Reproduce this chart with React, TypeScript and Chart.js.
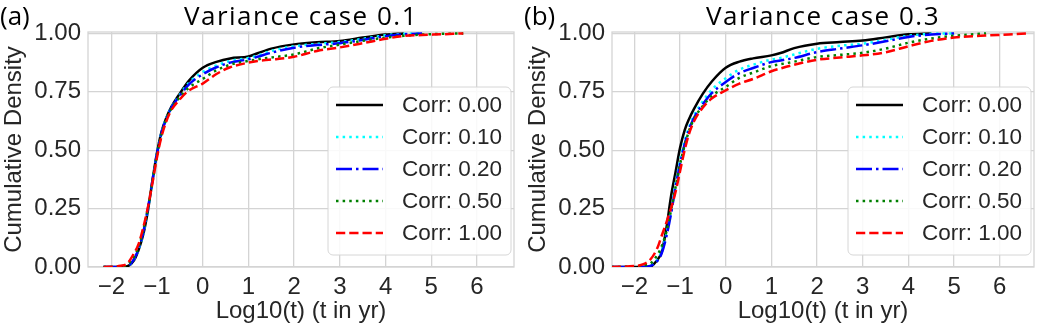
import React, { useEffect, useRef } from 'react';
import { Chart, registerables } from 'chart.js';

Chart.register(...registerables);

// ---------- data ----------
const CORR_LABELS = ['Corr: 0.00', 'Corr: 0.10', 'Corr: 0.20', 'Corr: 0.50', 'Corr: 1.00'];
const X_TICKS = [-2, -1, 0, 1, 2, 3, 4, 5, 6];
const Y_TICKS = [0, 0.25, 0.5, 0.75, 1.0];

// Panel (a): variance case 0.1
const XA = [-2.17, -1.8, -1.65, -1.5, -1.4, -1.3, -1.2, -1.1, -1.0, -0.9, -0.8, -0.7, -0.5, -0.3, 0, 0.3, 0.6, 1.0, 1.2, 1.5, 2.0, 2.5, 3.0, 3.5, 4.0, 4.4, 4.8, 5.2, 5.7];
const A_CORR_000 = [0, 0, 0.003, 0.03, 0.075, 0.14, 0.24, 0.37, 0.49, 0.58, 0.637, 0.68, 0.743, 0.798, 0.853, 0.878, 0.893, 0.901, 0.915, 0.935, 0.953, 0.962, 0.968, 0.982, 0.995, 1.0, null, null, null];
const A_CORR_010 = [0, 0, 0.003, 0.033, 0.078, 0.145, 0.245, 0.37, 0.487, 0.577, 0.635, 0.678, 0.738, 0.789, 0.835, 0.863, 0.882, 0.895, 0.905, 0.925, 0.945, 0.955, 0.963, 0.977, 0.992, 0.998, 1.0, null, null];
const A_CORR_020 = [0, 0, 0.003, 0.035, 0.08, 0.15, 0.25, 0.37, 0.485, 0.575, 0.633, 0.677, 0.734, 0.782, 0.825, 0.855, 0.875, 0.889, 0.9, 0.917, 0.939, 0.95, 0.958, 0.972, 0.988, 0.996, 1.0, null, null];
const A_CORR_050 = [0, 0.002, 0.01, 0.045, 0.09, 0.16, 0.25, 0.365, 0.48, 0.57, 0.63, 0.674, 0.727, 0.768, 0.805, 0.842, 0.866, 0.882, 0.889, 0.897, 0.91, 0.935, 0.952, 0.968, 0.982, 0.99, 0.995, 0.998, 1.0];
const A_CORR_100 = [0, 0.005, 0.015, 0.06, 0.1, 0.17, 0.255, 0.36, 0.47, 0.56, 0.622, 0.667, 0.718, 0.756, 0.785, 0.826, 0.855, 0.875, 0.882, 0.888, 0.9, 0.925, 0.94, 0.958, 0.977, 0.989, 0.993, 0.996, 1.0];

// Panel (b): variance case 0.3
const XB = [-2.5, -2.0, -1.8, -1.65, -1.5, -1.4, -1.3, -1.2, -1.1, -1.0, -0.9, -0.8, -0.7, -0.5, -0.3, 0, 0.3, 0.6, 1.0, 1.2, 1.5, 2.0, 2.5, 3.0, 3.5, 4.0, 4.5, 5.0, 5.7, 6.2, 6.6];
const B_CORR_000 = [0, 0, 0, 0.002, 0.03, 0.065, 0.165, 0.3, 0.405, 0.51, 0.585, 0.635, 0.675, 0.742, 0.795, 0.853, 0.879, 0.893, 0.906, 0.916, 0.937, 0.956, 0.963, 0.97, 0.983, 0.996, 1.0, null, null, null, null];
const B_CORR_010 = [0, 0, 0.001, 0.006, 0.03, 0.07, 0.14, 0.24, 0.355, 0.455, 0.54, 0.6, 0.647, 0.71, 0.76, 0.808, 0.845, 0.866, 0.888, 0.895, 0.91, 0.934, 0.947, 0.956, 0.972, 0.99, 0.998, 1.0, null, null, null];
const B_CORR_020 = [0, 0, 0.001, 0.005, 0.025, 0.06, 0.13, 0.225, 0.34, 0.44, 0.525, 0.59, 0.637, 0.697, 0.745, 0.792, 0.83, 0.852, 0.877, 0.884, 0.895, 0.92, 0.935, 0.949, 0.966, 0.985, 0.995, 1.0, null, null, null];
const B_CORR_050 = [0, 0.002, 0.007, 0.015, 0.05, 0.09, 0.15, 0.24, 0.34, 0.44, 0.52, 0.585, 0.632, 0.69, 0.733, 0.771, 0.81, 0.832, 0.86, 0.868, 0.879, 0.899, 0.908, 0.917, 0.935, 0.96, 0.978, 0.99, 1.0, null, null];
const B_CORR_100 = [0, 0.004, 0.012, 0.032, 0.08, 0.135, 0.19, 0.25, 0.32, 0.41, 0.5, 0.572, 0.622, 0.683, 0.722, 0.756, 0.785, 0.805, 0.838, 0.85, 0.866, 0.887, 0.897, 0.906, 0.919, 0.945, 0.968, 0.982, 0.991, 0.995, 1.0];

// ---------- styles ----------
const LW = 2.5;
const STYLES = [
  { color: '#000000', dash: [] as number[] },
  { color: '#00ffff', dash: [LW * 1, LW * 1.65] },
  { color: '#0000ff', dash: [LW * 6.4, LW * 1.6, LW * 1, LW * 1.6] },
  { color: '#008000', dash: [LW * 1, LW * 1.65] },
  { color: '#ff0000', dash: [LW * 3.7, LW * 1.6] },
];
const GRID = '#d4d4d4';
const TXT = '#262626';
const SANS = '"Liberation Sans", Arial, sans-serif';
const AXIS_FONT = 24;
const LEGEND_FONT = 22.5;

type PanelProps = {
  left: number;
  width: number;
  padRight: number;
  xs: number[];
  series: (number | null)[][];
  title: string;
  tag: string;
  xMin: number;
  xMax: number;
};

function Panel({ left, width, padRight, xs, series, title, tag, xMin, xMax }: PanelProps) {
  const ref = useRef<HTMLCanvasElement | null>(null);
  useEffect(() => {
    if (!ref.current) return;
    const decor = {
      id: 'decor',
      beforeDatasetsDraw(chart: any) {
        const { ctx, chartArea: a } = chart;
        ctx.save();
        ctx.strokeStyle = GRID;
        ctx.lineWidth = 1.3;
        ctx.strokeRect(a.left, a.top, a.right - a.left, a.bottom - a.top);
        ctx.restore();
      },
      afterDraw(chart: any) {
        const { ctx, chartArea: a } = chart;
        ctx.save();
        // titles
        ctx.fillStyle = '#000';
        ctx.font = '26px "Open Sans", sans-serif';
        ctx.textBaseline = 'alphabetic';
        ctx.textAlign = 'center';
        (ctx as any).letterSpacing = '1.5px';
        ctx.fillText(title, (a.left + a.right) / 2, 25);
        (ctx as any).letterSpacing = '0px';
        ctx.textAlign = 'left';
        ctx.fillText(tag, 0, 25);
        // legend
        const bw = 183, bh = 168;
        const bx = a.right - 3 - bw;
        const by = a.bottom - 12 - bh;
        ctx.beginPath();
        if ((ctx as any).roundRect) (ctx as any).roundRect(bx, by, bw, bh, 5);
        else ctx.rect(bx, by, bw, bh);
        ctx.fillStyle = 'rgba(255,255,255,0.85)';
        ctx.fill();
        ctx.strokeStyle = '#d6d6d6';
        ctx.lineWidth = 1;
        ctx.stroke();
        ctx.font = `${LEGEND_FONT}px ${SANS}`;
        ctx.textBaseline = 'middle';
        CORR_LABELS.forEach((lab, i) => {
          const y = by + 18 + i * 32;
          ctx.beginPath();
          ctx.setLineDash(STYLES[i].dash);
          ctx.strokeStyle = STYLES[i].color;
          ctx.lineWidth = LW;
          ctx.lineCap = 'butt';
          ctx.moveTo(bx + 8, y);
          ctx.lineTo(bx + 55, y);
          ctx.stroke();
          ctx.setLineDash([]);
          ctx.fillStyle = TXT;
          ctx.fillText(lab, bx + 74, y + 1);
        });
        ctx.restore();
      },
    };

    const chart = new Chart(ref.current, {
      type: 'line',
      data: {
        datasets: series.map((ys, i) => ({
          label: CORR_LABELS[i],
          data: xs.map((x, j) => ({ x, y: ys[j] })),
          borderColor: STYLES[i].color,
          backgroundColor: STYLES[i].color,
          borderWidth: LW,
          borderDash: STYLES[i].dash,
          borderCapStyle: 'butt',
          pointRadius: 0,
          fill: false,
          cubicInterpolationMode: 'monotone',
          spanGaps: false,
          order: series.length - i,
        })) as any,
      },
      options: {
        responsive: false,
        animation: false,
        devicePixelRatio: 1,
        layout: { padding: { top: 32, right: padRight, left: 0, bottom: 0 } },
        plugins: {
          legend: { display: false },
          tooltip: { enabled: false },
          title: { display: false },
        },
        scales: {
          x: {
            type: 'linear',
            min: xMin,
            max: xMax,
            afterBuildTicks: (s: any) => {
              s.ticks = X_TICKS.map((v) => ({ value: v }));
            },
            afterFit: (s: any) => {
              s.height = 60;
            },
            grid: { color: GRID, lineWidth: 1.3, drawTicks: false },
            border: { display: false },
            ticks: {
              color: TXT,
              font: { family: SANS, size: AXIS_FONT },
              padding: 6,
              maxRotation: 0,
              autoSkip: false,
              callback: (v: any) => (Number(v) < 0 ? '\u2212' + Math.abs(Number(v)) : String(v)),
            },
            title: {
              display: true,
              text: 'Log10(t) (t in yr)',
              color: TXT,
              font: { family: SANS, size: AXIS_FONT },
              padding: { top: 0, bottom: 1 },
            },
          },
          y: {
            type: 'linear',
            min: 0,
            max: 1.006,
            afterBuildTicks: (s: any) => {
              s.ticks = Y_TICKS.map((v) => ({ value: v }));
            },
            afterFit: (s: any) => {
              s.width = 88;
            },
            grid: { color: GRID, lineWidth: 1.3, drawTicks: false },
            border: { display: false },
            ticks: {
              color: TXT,
              font: { family: SANS, size: AXIS_FONT },
              padding: 7,
              callback: (v: any) => Number(v).toFixed(2),
            },
            title: {
              display: true,
              text: 'Cumulative Density',
              color: TXT,
              font: { family: SANS, size: AXIS_FONT },
              padding: { top: 0, bottom: 0 },
            },
          },
        },
      },
      plugins: [decor],
    } as any);
    return () => chart.destroy();
  }, []);
  return (
    <canvas
      ref={ref}
      width={width}
      height={327}
      style={{ position: 'absolute', left, top: 0, width, height: 327 }}
    />
  );
}

export default function App() {
  return (
    <div style={{ position: 'fixed', left: 0, top: 0, width: 1047, height: 327, background: '#fff' }}>
      <Panel
        left={0}
        width={524}
        padRight={10}
        xs={XA}
        series={[A_CORR_000, A_CORR_010, A_CORR_020, A_CORR_050, A_CORR_100]}
        title="Variance case 0.1"
        tag="(a)"
        xMin={-2.51}
        xMax={6.81}
      />
      <Panel
        left={524}
        width={523}
        padRight={13}
        xs={XB}
        series={[B_CORR_000, B_CORR_010, B_CORR_020, B_CORR_050, B_CORR_100]}
        title="Variance case 0.3"
        tag="(b)"
        xMin={-2.49}
        xMax={6.75}
      />
    </div>
  );
}
